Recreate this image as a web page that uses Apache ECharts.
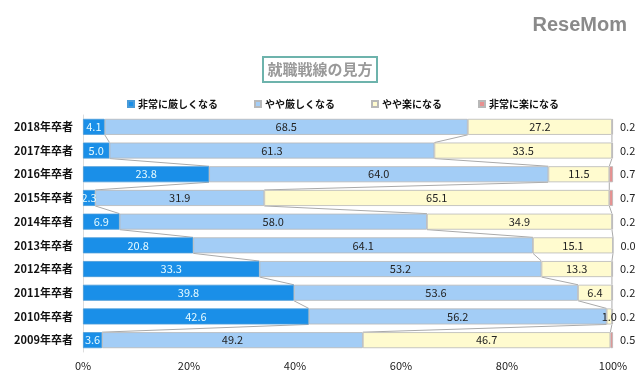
<!DOCTYPE html>
<html><head><meta charset="utf-8">
<script src="https://cdn.jsdelivr.net/npm/echarts@6/dist/echarts.min.js"></script>
<style>html,body{margin:0;padding:0;background:#fff}#c{width:640px;height:385px}</style>
</head><body><div id="c"></div>
<script>
const categories = ['2018年卒者','2017年卒者','2016年卒者','2015年卒者','2014年卒者','2013年卒者','2012年卒者','2011年卒者','2010年卒者','2009年卒者'];
const seriesNames = ['非常に厳しくなる','やや厳しくなる','やや楽になる','非常に楽になる'];
const verySevere = [4.1,5.0,23.8,2.3,6.9,20.8,33.3,39.8,42.6,3.6];
const slightlySevere = [68.5,61.3,64.0,31.9,58.0,64.1,53.2,53.6,56.2,49.2];
const slightlyEasy = [27.2,33.5,11.5,65.1,34.9,15.1,13.3,6.4,1.0,46.7];
const veryEasy = [0.2,0.2,0.7,0.7,0.2,0.0,0.2,0.2,0.2,0.5];
const xTicks = [0,20,40,60,80,100];

const colors = ['#1a8fe8','#a3cdf6','#fffbcf','#e89090'];
const font = '"Noto Sans CJK JP", sans-serif';
const allData = [verySevere, slightlySevere, slightlyEasy, veryEasy];

const connectorData = [];
for (let i = 0; i < categories.length - 1; i++) {
  let c1 = 0, c2 = 0;
  for (let s = 0; s < 3; s++) {
    c1 += allData[s][i]; c2 += allData[s][i+1];
    connectorData.push([c1, i, c2, i+1]);
  }
}

const chart = echarts.init(document.getElementById('c'), null, {renderer:'canvas'});
const barSeries = seriesNames.map((name, s) => ({
  name, type: 'bar', stack: 'total', data: allData[s], barWidth: 16,
  itemStyle: {color: colors[s], borderColor: s === 0 ? '#4a9bd8' : '#b8b8b8', borderWidth: 0.8},
  label: s === 3 ? {show: true, position: 'right', distance: 7, color: '#222', fontSize: 11, fontFamily: font,
           formatter: p => p.value.toFixed(1)}
        : {show: true, position: 'inside', color: s === 0 ? '#e6fbff' : '#222', fontSize: 11, fontFamily: font,
           formatter: p => p.value.toFixed(1)}
}));

chart.setOption({
  animation: false,
  graphic: [
    {type:'rect', shape:{x:263, y:57, width:114, height:25}, style:{fill:'#fff', stroke:'#6db3ac', lineWidth:2}},
    {type:'text', x:320, y:69.5, style:{text:'就職戦線の見方', fill:'#999', fontSize:15, fontFamily:font, fontWeight:'bold', align:'center', verticalAlign:'middle'}},
    {type:'text', x:627, y:25, style:{text:'ReseMom', fill:'#8a8a8a', fontSize:20, fontWeight:'bold', fontFamily:'"Liberation Sans", sans-serif', align:'right', verticalAlign:'middle'}}
  ],
  legend: {
    top: 94, left: 122, itemGap: 36, itemWidth: 6, itemHeight: 6, icon: 'rect',
    textStyle: {fontSize: 10, fontWeight: 'bold', fontFamily: font, color: '#111', padding:[0,0,0,-1]},
    data: seriesNames
  },
  grid: {left: 83, right: 27, top: 115, bottom: 33, containLabel: false},
  xAxis: {
    type: 'value', min: 0, max: 100, interval: 20,
    axisLabel: {formatter: v => xTicks.includes(v) ? v + '%' : '', fontSize: 11, color: '#222', fontFamily: font, margin: 8},
    splitLine: {show: false}, axisLine: {show: false}, axisTick: {show: false}
  },
  yAxis: {
    type: 'category', data: categories, inverse: true,
    axisLabel: {fontSize: 11, color: '#111', fontFamily: font, fontWeight: 'bold', margin: 10},
    axisLine: {show: true, lineStyle: {color: '#ddd'}}, axisTick: {show: false}
  },
  series: [
    ...barSeries,
    {
      type: 'custom', silent: true, z: 1,
      data: connectorData,
      renderItem: (params, api) => {
        const p1 = api.coord([api.value(0), api.value(1)]);
        const p2 = api.coord([api.value(2), api.value(3)]);
        return {type:'line', shape:{x1:p1[0], y1:p1[1]+8, x2:p2[0], y2:p2[1]-8}, style:{stroke:'#aaa', lineWidth:1}};
      }
    }
  ]
});
</script></body></html>
